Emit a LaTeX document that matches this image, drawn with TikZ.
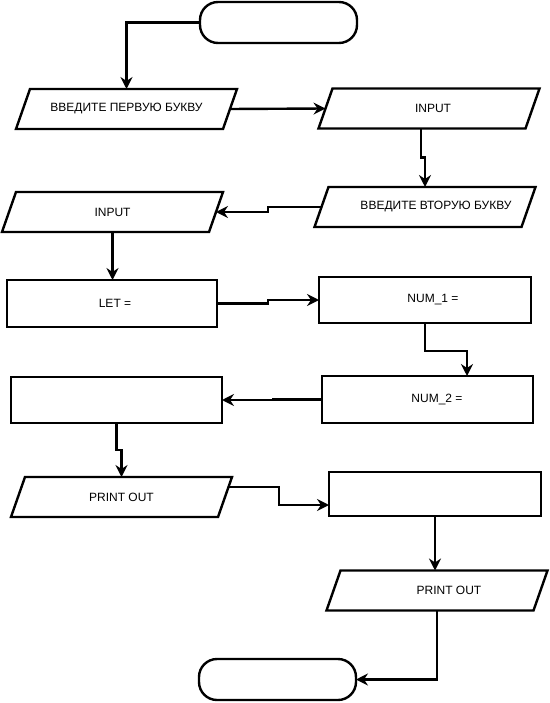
\documentclass[tikz,border=0pt]{standalone}
\usepackage{fontspec}
\setmainfont{Liberation Sans}
\usetikzlibrary{arrows.meta,calc}
\tikzset{
  ln/.style={line width=2.4pt},
  arr/.style={ln,-{Stealth[length=12pt,width=12pt,inset=4pt]}},
  base/.style={inner sep=0pt,outer sep=0pt,font=\fontsize{12}{14}\selectfont},
  io/.style={base,minimum width=207pt,minimum height=40pt},
  proc/.style={base,draw,ln,minimum width=211pt,minimum height=46pt},
  term/.style={base,draw,ln,rounded corners=18pt,minimum width=157pt,minimum height=41pt}
}
\begin{document}
\begin{tikzpicture}[x=1pt,y=-1pt]
\useasboundingbox[fill=white] (0,0) rectangle (549,703);
% nodes
\node[term] (t1) at (278.5,22.5) {};
\node[io] (p1) at (126.5,109) {ВВЕДИТЕ ПЕРВУЮ БУКВУ};
\node[io] (p2) at (429,108.5) {\hspace*{8pt}INPUT};
\node[io] (p3) at (425,207) {\hspace*{22pt}ВВЕДИТЕ ВТОРУЮ БУКВУ};
\node[io] (p4) at (112.5,212) {INPUT};
\node[proc,minimum width=210pt,minimum height=47pt] (let) at (112,303.5) {\hspace*{6pt}LET =};
\node[proc,minimum width=212pt] (num1) at (425,300) {\hspace*{16pt}NUM\_1 =};
\node[proc,minimum height=47pt] (num2) at (427.5,399.5) {\hspace*{19pt}NUM\_2 =};
\node[proc] (e1) at (116.5,400) {};
\node[io] (p5) at (121.5,497) {PRINT OUT};
\node[proc,minimum width=212pt,minimum height=44pt] (b2) at (435,494) {};
\node[io] (p6) at (437,590.5) {\hspace*{24pt}PRINT OUT};
\node[term] (t2) at (277.5,679.5) {};
% parallelogram outlines
\foreach \n in {p1,p2,p3,p4,p5,p6}{
  \draw[ln,line join=miter] ([xshift=7pt]\n.north west) -- ([xshift=7pt]\n.north east)
    -- ([xshift=-7pt]\n.south east) -- ([xshift=-7pt]\n.south west) -- cycle;
}
% connectors
\draw[arr] (t1.west) -| (p1.north);
\draw[arr] (p1.east) -- (p2.west);
\draw[arr] ([xshift=-8pt]p2.south) -- ++(0,29) -| (p3.north);
\draw[arr] (p3.west) -- (268,207) |- (p4.east);
\draw[arr] (p4.south) -- (p4.south |- let.north);
\draw[arr] (let.east) -- (268,303.5) |- (num1.west);
\draw[arr] (num1.south) -- ++(0,28) -| ([xshift=39.5pt]num2.north);
\draw[arr] (num2.west) -- (273,399.5) |- (e1.east);
\draw[arr] (e1.south) -- ++(0,27) -| (p5.north);
\draw[arr] ([shift={(3.5pt,10pt)}]p5.east) -- (279,487) |- ([yshift=-11pt]b2.west);
\draw[arr] (b2.south) -- (b2.south |- p6.north);
\draw[arr] (p6.south) |- (t2.east);
\end{tikzpicture}
\end{document}
